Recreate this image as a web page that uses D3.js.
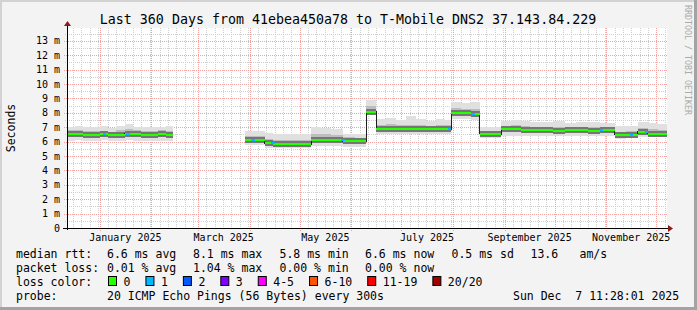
<!DOCTYPE html>
<html>
<head>
<meta charset="utf-8">
<script src="https://cdn.jsdelivr.net/npm/d3@7"></script>
<style>
body { margin: 0; background: #fff; }
svg text { font-family: "DejaVu Sans Mono", monospace; white-space: pre; }
</style>
</head>
<body>
<div id="chart"></div>
<script>
// samples: each value holds until the next date (null = no data)
var sampleDates = ["2024-12-12", "2024-12-17", "2024-12-22", "2024-12-27", "2025-01-01", "2025-01-06",
    "2025-01-11", "2025-01-16", "2025-01-21", "2025-01-26", "2025-01-31", "2025-02-05", "2025-02-10",
    "2025-02-14", "2025-03-29", "2025-04-03", "2025-04-10", "2025-04-15", "2025-04-19", "2025-04-25",
    "2025-05-01", "2025-05-08", "2025-05-14", "2025-05-20", "2025-05-27", "2025-06-03", "2025-06-10",
    "2025-06-16", "2025-06-22", "2025-06-28", "2025-07-04", "2025-07-10", "2025-07-16", "2025-07-22",
    "2025-07-27", "2025-07-31", "2025-08-06", "2025-08-12", "2025-08-17", "2025-08-24", "2025-08-30",
    "2025-09-05", "2025-09-11", "2025-09-16", "2025-09-23", "2025-09-30", "2025-10-07", "2025-10-14",
    "2025-10-21", "2025-10-28", "2025-11-06", "2025-11-13", "2025-11-20", "2025-11-26", "2025-12-02"];
var medianRtt = [6.50, 6.52, 6.49, 6.47, 6.50, 6.46, 6.49, 6.55, 6.50, 6.49, 6.48, 6.50, 6.47,
    null, 6.12, 6.10, 5.88, 5.86, 5.82, 5.82, 5.82, 6.12, 6.12, 6.10, 6.04, 6.03, 8.08,
    6.87, 6.88, 6.87, 6.86, 6.87, 6.86, 6.88, 6.87, 7.96, 7.97, 7.95, 6.53, 6.52, 6.85,
    6.85, 6.84, 6.78, 6.78, 6.77, 6.78, 6.78, 6.77, 6.78, 6.46, 6.46, 6.69, 6.55, 6.55];
var pingMin = [6.05, 6.08, 6.02, 6.05, 6.08, 6.04, 6.05, 6.08, 6.06, 6.05, 6.04, 6.05, 6.03,
    null, 5.75, 5.74, 5.55, 5.55, 5.55, 5.56, 5.55, 5.70, 5.72, 5.70, 5.65, 5.62, 7.85,
    6.55, 6.56, 6.55, 6.55, 6.56, 6.55, 6.56, 6.55, 7.55, 7.55, 7.52, 6.25, 6.24, 6.40,
    6.42, 6.40, 6.40, 6.40, 6.38, 6.40, 6.40, 6.38, 6.40, 6.20, 6.22, 6.35, 6.32, 6.33];
var pingLow = [6.30, 6.32, 6.28, 6.30, 6.30, 6.27, 6.30, 6.33, 6.30, 6.30, 6.28, 6.30, 6.28,
    null, 5.95, 5.94, 5.72, 5.70, 5.68, 5.68, 5.68, 5.95, 5.95, 5.92, 5.88, 5.88, 7.95,
    6.72, 6.73, 6.72, 6.72, 6.72, 6.70, 6.73, 6.72, 7.80, 7.82, 7.80, 6.40, 6.40, 6.65,
    6.66, 6.65, 6.60, 6.60, 6.58, 6.60, 6.60, 6.60, 6.60, 6.35, 6.35, 6.55, 6.45, 6.45];
var pingHigh = [6.78, 6.80, 6.74, 6.72, 6.76, 6.70, 6.78, 6.85, 6.78, 6.76, 6.74, 6.78, 6.74,
    null, 6.42, 6.40, 6.15, 6.12, 6.10, 6.08, 6.10, 6.55, 6.50, 6.45, 6.30, 6.28, 8.45,
    7.15, 7.20, 7.12, 7.18, 7.15, 7.10, 7.18, 7.12, 8.30, 8.28, 8.25, 6.75, 6.72, 7.10,
    7.12, 7.08, 7.02, 7.00, 7.02, 7.00, 7.04, 7.00, 7.02, 6.70, 6.72, 6.95, 6.85, 6.82];
var pingMax = [7.02, 7.10, 7.00, 6.98, 7.05, 6.95, 7.05, 7.25, 7.02, 7.00, 6.98, 7.02, 7.05,
    null, 6.75, 6.72, 6.60, 6.55, 6.50, 6.55, 6.52, 7.00, 6.95, 6.85, 6.55, 6.50, 8.92,
    7.55, 7.65, 7.50, 7.80, 7.55, 7.45, 7.60, 7.50, 8.78, 8.70, 8.75, 7.00, 6.98, 7.45,
    7.50, 7.42, 7.38, 7.35, 7.40, 7.32, 7.38, 7.35, 7.30, 7.05, 7.10, 7.38, 7.30, 7.25];

// single samples with one lost ping
var lossDates = ["2025-01-03", "2025-01-17", "2025-04-02", "2025-04-14", "2025-05-26",
    "2025-07-29", "2025-08-12", "2025-10-28", "2025-11-15", "2025-11-24"];
var lossCounts = [1, 1, 1, 1, 1, 1, 1, 1, 1, 1];

var yTicks = [0, 1, 2, 3, 4, 5, 6, 7, 8, 9, 10, 11, 12, 13];
var lossLabels = ["0", "1", "2", "3", "4-5", "6-10", "11-19", "20/20"];
var lossColors = ["#26ff00", "#00b8ff", "#0059ff", "#7e00ff", "#ff00ff", "#ff5500", "#ff0000", "#a10000"];

var rttRow = [["median rtt:", 16], ["6.6 ms avg", 107], ["8.1 ms max", 193], ["5.8 ms min", 279.5],
    ["6.6 ms now", 365], ["0.5 ms sd", 451.5], ["13.6", 530.5], ["am/s", 579.5]];
var lossRow = [["packet loss:", 16], ["0.01 % avg", 107], ["1.04 % max", 193], ["0.00 % min", 279.5],
    ["0.00 % now", 365]];

var width = 697, height = 310;
var plot = { left: 67, right: 667, top: 28, bottom: 228 };

var parse = d3.timeParse("%Y-%m-%d");
var tEnd = new Date(2025, 11, 7, 11, 28, 1);
var tStart = d3.timeDay.offset(tEnd, -360);

var x = d3.scaleTime().domain([tStart, tEnd]).range([plot.left, plot.right]);
var y = d3.scaleLinear().domain([0, 13.89]).range([plot.bottom, plot.top]);

var svg = d3.select("#chart").append("svg")
    .attr("width", width)
    .attr("height", height);

// frame
svg.append("rect").attr("width", width).attr("height", height).attr("fill", "#f3f3f3");
svg.append("rect").attr("x", 0).attr("y", 0).attr("width", width).attr("height", 2).attr("fill", "#d2d2d2");
svg.append("rect").attr("x", 0).attr("y", 0).attr("width", 2).attr("height", height).attr("fill", "#d2d2d2");
svg.append("rect").attr("x", width - 3).attr("y", 0).attr("width", 3).attr("height", height).attr("fill", "#a3a3a3");
svg.append("rect").attr("x", 0).attr("y", height - 3).attr("width", width).attr("height", 3).attr("fill", "#a3a3a3");

svg.append("rect")
    .attr("x", plot.left).attr("y", plot.top)
    .attr("width", plot.right - plot.left).attr("height", plot.bottom - plot.top)
    .attr("fill", "#ffffff");

svg.append("clipPath").attr("id", "clip")
    .append("rect")
    .attr("x", plot.left).attr("y", plot.top)
    .attr("width", plot.right - plot.left).attr("height", plot.bottom - plot.top);

// grid
var grid = svg.append("g").attr("shape-rendering", "crispEdges");
var minorY = y.ticks(28).filter(function (v) { return v % 1 != 0; });
var months = d3.timeMonth.range(d3.timeMonth.ceil(tStart), tEnd);
var minorX = d3.timeDay.every(5).range(tStart, tEnd).filter(function (d) { return d.getDate() != 1; });

grid.selectAll(".minY").data(minorY).enter().append("line")
    .attr("x1", plot.left - 2).attr("x2", plot.right)
    .attr("y1", function (d) { return Math.round(y(d)) + 0.5; })
    .attr("y2", function (d) { return Math.round(y(d)) + 0.5; })
    .attr("stroke", "#cfcfcf").attr("stroke-dasharray", "1,1");
grid.selectAll(".minX").data(minorX).enter().append("line")
    .attr("x1", function (d) { return Math.round(x(d)) + 0.5; })
    .attr("x2", function (d) { return Math.round(x(d)) + 0.5; })
    .attr("y1", plot.top).attr("y2", plot.bottom + 2)
    .attr("stroke", "#cfcfcf").attr("stroke-dasharray", "1,1");
grid.selectAll(".majY").data(yTicks.slice(1)).enter().append("line")
    .attr("x1", plot.left - 3).attr("x2", plot.right)
    .attr("y1", function (d) { return Math.round(y(d)) + 0.5; })
    .attr("y2", function (d) { return Math.round(y(d)) + 0.5; })
    .attr("stroke", "#f2a0a0").attr("stroke-dasharray", "1,1");
grid.selectAll(".majX").data(months).enter().append("line")
    .attr("x1", function (d) { return Math.round(x(d)) + 0.5; })
    .attr("x2", function (d) { return Math.round(x(d)) + 0.5; })
    .attr("y1", plot.top).attr("y2", plot.bottom + 3)
    .attr("stroke", "#f2a0a0").attr("stroke-dasharray", "1,1");

// smoke
var segs = [];
sampleDates.forEach(function (d, i) {
    if (medianRtt[i] == null) return;
    segs.push({
        t0: parse(d),
        t1: i < sampleDates.length - 1 ? parse(sampleDates[i + 1]) : tEnd,
        med: medianRtt[i], min: pingMin[i], low: pingLow[i], high: pingHigh[i], max: pingMax[i]
    });
});

var smoke = svg.append("g").attr("clip-path", "url(#clip)").attr("shape-rendering", "crispEdges");

function band(lo, hi, color) {
    smoke.append("g").selectAll("rect").data(segs).enter().append("rect")
        .attr("x", function (d) { return x(d.t0); })
        .attr("width", function (d) { return x(d.t1) - x(d.t0); })
        .attr("y", function (d) { return y(d[hi]); })
        .attr("height", function (d) { return y(d[lo]) - y(d[hi]); })
        .attr("fill", color);
}
band("min", "max", "#e0e0e0");
band("low", "high", "#bdbdbd");

smoke.append("g").selectAll("rect").data(segs).enter().append("rect")
    .attr("x", function (d) { return x(d.t0); })
    .attr("width", function (d) { return x(d.t1) - x(d.t0); })
    .attr("y", function (d) { return y(d.med) - 3; })
    .attr("height", 6)
    .attr("fill", "#767676");

// median step line
var pts = [];
segs.forEach(function (s, i) {
    pts.push({ t: s.t0, v: s.med });
    var next = segs[i + 1];
    if (!next || +next.t0 != +s.t1) {
        pts.push({ t: s.t1, v: s.med });
        pts.push(null);
    }
});
var line = d3.line()
    .defined(function (d) { return d != null; })
    .x(function (d) { return x(d.t); })
    .y(function (d) { return y(d.v); })
    .curve(d3.curveStepAfter);
smoke.append("path").datum(pts)
    .attr("d", line)
    .attr("fill", "none")
    .attr("stroke", "#202020")
    .attr("stroke-width", 1);

smoke.append("g").selectAll("line").data(segs).enter().append("line")
    .attr("x1", function (d) { return x(d.t0); })
    .attr("x2", function (d) { return x(d.t1); })
    .attr("y1", function (d) { return y(d.med); })
    .attr("y2", function (d) { return y(d.med); })
    .attr("stroke", lossColors[0])
    .attr("stroke-width", 2);

smoke.append("g").selectAll("line").data(lossDates).enter().append("line")
    .each(function (d, i) {
        var t = parse(d);
        var s = segs.find(function (g) { return t >= g.t0 && t < g.t1; });
        d3.select(this)
            .attr("x1", x(t)).attr("x2", x(d3.timeDay.offset(t, 2)))
            .attr("y1", y(s.med)).attr("y2", y(s.med))
            .attr("stroke", lossColors[lossCounts[i]])
            .attr("stroke-width", 2);
    });

// axes
svg.append("line")
    .attr("x1", plot.left - 4).attr("x2", plot.right + 2)
    .attr("y1", plot.bottom + 0.5).attr("y2", plot.bottom + 0.5)
    .attr("stroke", "#000").attr("shape-rendering", "crispEdges");
svg.append("line")
    .attr("x1", plot.left + 0.5).attr("x2", plot.left + 0.5)
    .attr("y1", plot.bottom + 2).attr("y2", plot.top - 2)
    .attr("stroke", "#000").attr("shape-rendering", "crispEdges");
svg.append("path")
    .attr("d", "M" + (plot.left - 3) + "," + (plot.top - 2) + "L" + (plot.left + 0.5) + "," + (plot.top - 7) + "L" + (plot.left + 4) + "," + (plot.top - 2) + "Z")
    .attr("fill", "#8b1a1a");
svg.append("path")
    .attr("d", "M" + (plot.right + 1) + "," + (plot.bottom - 3) + "L" + (plot.right + 6) + "," + (plot.bottom + 0.5) + "L" + (plot.right + 1) + "," + (plot.bottom + 4) + "Z")
    .attr("fill", "#8b1a1a");

svg.append("g").selectAll("text").data(yTicks).enter().append("text")
    .attr("x", plot.left - 7)
    .attr("y", function (d) { return y(d) + 3.5; })
    .attr("text-anchor", "end")
    .attr("font-size", "10px")
    .attr("fill", "#000")
    .text(function (d) { return d == 0 ? "0" : d + " m"; });

var labelMonths = months.filter(function (d) { return d.getMonth() % 2 == 0; });
svg.append("g").selectAll("text").data(labelMonths).enter().append("text")
    .attr("x", function (d) { return (x(d) + x(d3.timeMonth.offset(d, 1))) / 2; })
    .attr("y", 240.5)
    .attr("text-anchor", "middle")
    .attr("font-size", "10px")
    .text(d3.timeFormat("%B %Y"));

svg.append("text")
    .attr("transform", "translate(15,128) rotate(-90)")
    .attr("text-anchor", "middle")
    .attr("font-size", "11.5px")
    .text("Seconds");

svg.append("text")
    .attr("x", 348).attr("y", 24)
    .attr("text-anchor", "middle")
    .attr("font-size", "13.3px")
    .text("Last 360 Days from 41ebea450a78 to T-Mobile DNS2 37.143.84.229");

svg.append("text")
    .attr("transform", "translate(685,5) rotate(90)")
    .attr("font-size", "8.3px")
    .attr("fill", "#aaaaaa")
    .text("RRDTOOL / TOBI OETIKER");

// legend
var legend = svg.append("g").attr("font-size", "11.5px");
rttRow.forEach(function (r) {
    legend.append("text").attr("x", r[1]).attr("y", 258).text(r[0]);
});
lossRow.forEach(function (r) {
    legend.append("text").attr("x", r[1]).attr("y", 272).text(r[0]);
});
legend.append("text").attr("x", 16).attr("y", 286).text("loss color:");
var bx = 108.5;
lossLabels.forEach(function (l, i) {
    legend.append("rect")
        .attr("x", bx).attr("y", 276.5).attr("width", 8).attr("height", 9)
        .attr("fill", lossColors[i]).attr("stroke", "#000");
    var t = legend.append("text").attr("x", bx + 15).attr("y", 286).text(l);
    bx = bx + 15 + t.node().getComputedTextLength() + 15.5;
});
legend.append("text").attr("x", 16).attr("y", 300).text("probe:");
legend.append("text").attr("x", 107).attr("y", 300).text("20 ICMP Echo Pings (56 Bytes) every 300s");
legend.append("text").attr("x", 513).attr("y", 300).text("Sun Dec  7 11:28:01 2025");
</script>
</body>
</html>
